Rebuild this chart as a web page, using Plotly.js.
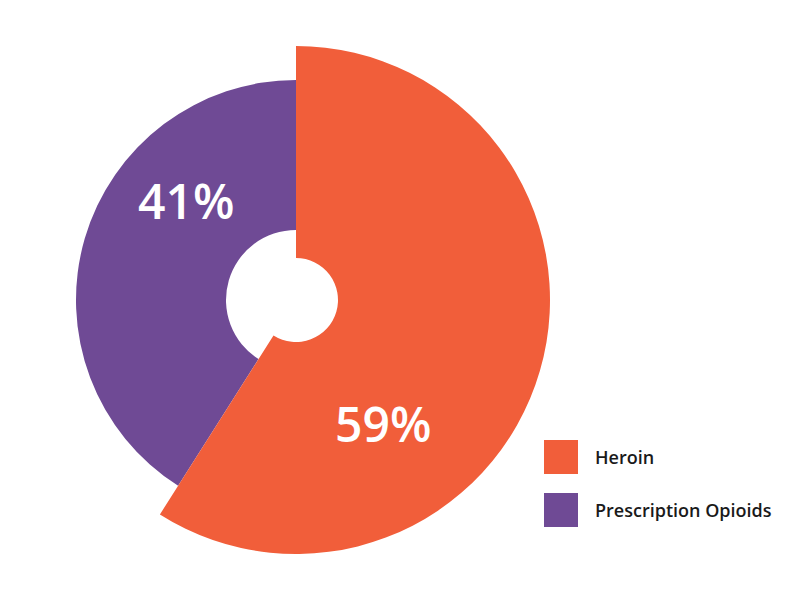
<!DOCTYPE html>
<html>
<head>
<meta charset="utf-8">
<script src="https://cdn.plot.ly/plotly-3.0.1.min.js"></script>
<style>html,body{margin:0;padding:0;background:#fff;}#chart{width:800px;height:600px;}</style>
</head>
<body>
<div id="chart"></div>
<script>
var categories = ["Heroin", "Prescription Opioids"];
var values = [59, 41];
var colors = ["#f15e3a", "#6f4a95"];

var W = 800, H = 600;
var cx = 296, cy = 300;
var radii = [254, 220];
var holes = [42, 70];

function dom(r) {
  return {
    x: [(cx - r) / W, (cx + r) / W],
    y: [(H - cy - r) / H, (H - cy + r) / H]
  };
}

var traces = [];
// draw the smaller (purple) ring first, then the larger (orange) ring on top
[1, 0].forEach(function (i) {
  var cols = categories.map(function (c, j) { return j === i ? colors[j] : "rgba(0,0,0,0)"; });
  traces.push({
    type: "pie",
    labels: categories,
    values: values,
    sort: false,
    direction: "clockwise",
    rotation: 0,
    hole: holes[i] / radii[i],
    domain: dom(radii[i]),
    marker: { colors: cols, line: { width: 0 } },
    textinfo: "none",
    hoverinfo: "label+percent",
    showlegend: false
  });
});

var labelPos = [[383, 423], [186, 201]];
var annotations = categories.map(function (c, i) {
  return {
    xref: "paper", yref: "paper",
    x: labelPos[i][0] / W, y: 1 - labelPos[i][1] / H,
    xanchor: "center", yanchor: "middle",
    text: values[i] + "%",
    showarrow: false,
    font: { family: "Open Sans", size: 48, color: "#ffffff", weight: 600 }
  };
});

var shapes = [];
var legTop = [440, 493];
categories.forEach(function (c, i) {
  shapes.push({
    type: "rect", xref: "paper", yref: "paper",
    x0: 544 / W, x1: 578 / W,
    y0: 1 - (legTop[i] + 34) / H, y1: 1 - legTop[i] / H,
    fillcolor: colors[i], line: { width: 0 }
  });
  annotations.push({
    xref: "paper", yref: "paper",
    x: 593 / W, y: 1 - (legTop[i] + 17) / H,
    xanchor: "left", yanchor: "middle",
    text: c, showarrow: false,
    font: { family: "Open Sans", size: 18, color: "#1a1a1a", weight: 600 }
  });
});

var layout = {
  width: W, height: H,
  margin: { l: 0, r: 0, t: 0, b: 0 },
  paper_bgcolor: "#ffffff",
  showlegend: false,
  annotations: annotations,
  shapes: shapes
};

Plotly.newPlot("chart", traces, layout, { displayModeBar: false, staticPlot: true });
</script>
</body>
</html>
